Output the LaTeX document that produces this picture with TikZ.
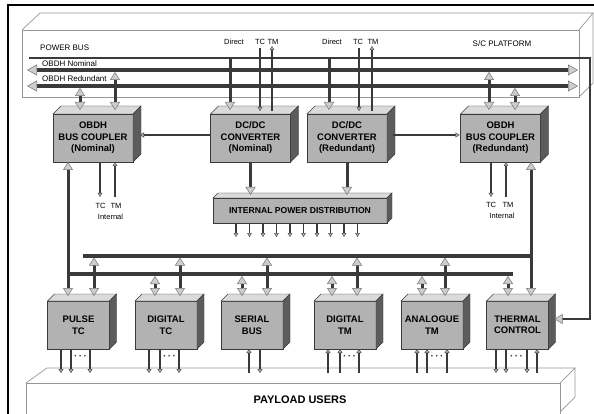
\documentclass[tikz,border=0pt]{standalone}
\usepackage{fontspec}
\setmainfont{Liberation Sans}
\usetikzlibrary{arrows.meta, calc}
\definecolor{boxfront}{RGB}{178,178,178}
\definecolor{boxtop}{RGB}{218,218,218}
\definecolor{boxside}{RGB}{92,92,92}
\definecolor{linedark}{RGB}{58,58,58}
\definecolor{tipfill}{RGB}{205,205,205}
\definecolor{tipedge}{RGB}{115,115,115}
\definecolor{slabedge}{RGB}{150,150,150}
\tikzset{
    upperbox/.style={rectangle, draw=linedark, line width=0.5pt, fill=boxfront, inner sep=0pt, outer sep=0pt, minimum width=80pt, minimum height=48pt, align=center, font=\fontsize{9.5}{11.5}\selectfont\bfseries},
    userbox/.style={rectangle, draw=linedark, line width=0.5pt, fill=boxfront, inner sep=0pt, outer sep=0pt, minimum width=62pt, minimum height=48pt, align=center, font=\fontsize{9.5}{11.5}\selectfont\bfseries},
    distbox/.style={rectangle, draw=linedark, line width=0.5pt, fill=boxfront, inner sep=0pt, outer sep=0pt, minimum width=174pt, minimum height=25pt, align=center, font=\fontsize{8.6}{10}\selectfont\bfseries},
    topface/.style={fill=boxtop, draw=linedark, line width=0.4pt},
    sideface/.style={fill=boxside, draw=linedark, line width=0.4pt},
    slab/.style={draw=slabedge, line width=0.7pt},
    frameline/.style={draw=black, line width=2pt},
    buslabel/.style={font=\fontsize{8}{10}\selectfont, inner sep=0pt},
    siglabel/.style={font=\fontsize{7.5}{9}\selectfont, inner sep=0pt},
    dotlbl/.style={font=\fontsize{10}{11}\selectfont\bfseries, inner sep=0pt, text=linedark},
    paylbl/.style={font=\fontsize{11}{13}\selectfont\bfseries, inner sep=0pt},
    busarr/.style={draw=linedark, line width=3.8pt, {Triangle[length=10pt,width=11pt,line width=0.5pt,color=tipedge,fill=tipfill]}-{Triangle[length=10pt,width=11pt,line width=0.5pt,color=tipedge,fill=tipfill]}},
    ibus/.style={draw=linedark, line width=3.2pt},
    dblarr/.style={draw=linedark, line width=3pt, {Triangle[length=8pt,width=10pt,line width=0.5pt,color=tipedge,fill=tipfill]}-{Triangle[length=8pt,width=10pt,line width=0.5pt,color=tipedge,fill=tipfill]}},
    feedarr/.style={draw=linedark, line width=3pt, -{Triangle[length=8pt,width=10pt,line width=0.5pt,color=tipedge,fill=tipfill]}},
    pwrfeed/.style={draw=linedark, line width=2.8pt, -{Triangle[length=8pt,width=10pt,line width=0.5pt,color=tipedge,fill=tipfill]}},
    sigarr/.style={draw=linedark, line width=1.5pt, -{Triangle[length=4pt,width=4.5pt,line width=0.4pt,color=linedark,fill=gray!60]}},
    linkarr/.style={draw=linedark, line width=2pt, -{Triangle[length=4pt,width=5pt,line width=0.4pt,color=linedark,fill=gray!60]}},
    userarr/.style={draw=linedark, line width=2.2pt, -{Triangle[length=4pt,width=5pt,line width=0.4pt,color=linedark,fill=gray!60]}}
}
\newcommand{\blockfaces}[2]{%
    \filldraw[topface] (#1.north west) -- ++(#2,-#2) -- ($(#1.north east)+(#2,-#2)$) -- (#1.north east) -- cycle;
    \filldraw[sideface] (#1.north east) -- ++(#2,-#2) -- ($(#1.south east)+(#2,-#2)$) -- (#1.south east) -- cycle;
}
\begin{document}
\begin{tikzpicture}[x=1pt, y=-1pt]
    \useasboundingbox (0,0) rectangle (594,414);

    \draw[frameline] (8,420) -- (8,5) -- (600,5);
    \draw[slab] (22,30) rectangle (579,97);
    \draw[slab] (22,30) -- (40,13) -- (593,13) -- (579,30);
    \draw[slab] (593,13) -- (593,83) -- (579,97);
    \draw[slab] (26,420) -- (26,383) -- (560,383) -- (560,420);
    \draw[slab] (26,383) -- (47,368) -- (575,368) -- (560,383);
    \draw[slab] (575,368) -- (575,397) -- (560,412);

    \node[buslabel, anchor=west] (lblpwr) at (40,48) {POWER BUS};
    \node[buslabel, anchor=west] (lblnom) at (42,63.5) {OBDH Nominal};
    \node[buslabel, anchor=west] (lblred) at (42,79) {OBDH Redundant};
    \node[buslabel] (lblsc) at (502,44) {S/C PLATFORM};
    \node[paylbl] (lblpay) at (300,400) {PAYLOAD USERS};

    \coordinate (pwrL) at (29,58);
    \coordinate (pwrR) at (590,58);
    \coordinate (pwrD) at (590,319);
    \coordinate (nomL) at (27,70);
    \coordinate (nomR) at (578,70);
    \coordinate (redL) at (27,86);
    \coordinate (redR) at (578,86);
    \coordinate (lbusL) at (68,274);
    \coordinate (lbusR) at (513,274);
    \coordinate (ubusL) at (83,256);
    \coordinate (ubusR) at (531,256);

    \draw[busarr] (nomL) -- (nomR);
    \draw[busarr] (redL) -- (redR);
    \draw[ibus] (lbusL) -- (lbusR);
    \draw[ibus] (ubusL) -- (ubusR);

    \node[upperbox] (cplN) at (93,138) {OBDH\\BUS COUPLER\\(Nominal)};
    \node[upperbox] (dcN) at (250.5,138) {DC/DC\\CONVERTER\\(Nominal)};
    \node[upperbox] (dcR) at (347,138) {DC/DC\\CONVERTER\\(Redundant)};
    \node[upperbox] (cplR) at (500.5,138) {OBDH\\BUS COUPLER\\(Redundant)};
    \node[distbox] (ipd) at (300,210.5) {INTERNAL POWER DISTRIBUTION};
    \node[userbox] (ptc) at (78.5,325) {PULSE\\TC};
    \node[userbox] (dtc) at (166,325) {DIGITAL\\TC};
    \node[userbox] (sbus) at (252,325) {SERIAL\\BUS};
    \node[userbox] (dtm) at (345,325) {DIGITAL\\TM};
    \node[userbox] (atm) at (432,325) {ANALOGUE\\TM};
    \node[userbox] (thc) at (517.5,325) {THERMAL\\CONTROL};
    \foreach \b/\d in {cplN/8, dcN/8, dcR/8, cplR/8, ipd/5, ptc/7, dtc/7, sbus/7, dtm/7, atm/7, thc/7}
        \blockfaces{\b}{\d};

    \draw[pwrfeed] (pwrL) -- (pwrR) -- (pwrD) -- ($(thc.east)+(6,-6)$);

    \node[siglabel] (dirN) at (234,42) {Direct};
    \node[siglabel] (tcN) at (260,42) {TC};
    \node[siglabel] (tmN) at (273,42) {TM};
    \node[siglabel] (dirR) at (332,42) {Direct};
    \node[siglabel] (tcR) at (358,42) {TC};
    \node[siglabel] (tmR) at (373,42) {TM};
    \draw[feedarr] ($(dcN.north)+(-20.5,-55)$) -- ($(dcN.north)+(-20.5,-4)$);
    \draw[feedarr] ($(dcR.north)+(-18,-55)$) -- ($(dcR.north)+(-18,-4)$);
    \draw[sigarr] ($(dcN.north)+(9.5,-66)$) -- ($(dcN.north)+(9.5,-3)$);
    \draw[sigarr] ($(dcN.north)+(21.5,-3)$) -- ($(dcN.north)+(21.5,-68)$);
    \draw[sigarr] ($(dcR.north)+(12,-66)$) -- ($(dcR.north)+(12,-3)$);
    \draw[sigarr] ($(dcR.north)+(25,-3)$) -- ($(dcR.north)+(25,-68)$);

    \draw[dblarr] ($(cplN.north)+(22,-42)$) -- ($(cplN.north)+(22,-4)$);
    \draw[dblarr] ($(cplN.north)+(-13,-26)$) -- ($(cplN.north)+(-13,-4)$);
    \draw[dblarr] ($(cplR.north)+(-11.5,-42)$) -- ($(cplR.north)+(-11.5,-4)$);
    \draw[dblarr] ($(cplR.north)+(14.5,-26)$) -- ($(cplR.north)+(14.5,-4)$);

    \draw[linkarr] ($(dcN.west)+(0,-3)$) -- ($(cplN.east)+(7,-3)$);
    \draw[linkarr] ($(dcR.east)+(6,-3)$) -- ($(cplR.west)+(-1,-3)$);

    \draw[feedarr] (dcN.south) -- ($(ipd.north -| dcN.south)+(0,-3)$);
    \draw[feedarr] (dcR.south) -- ($(ipd.north -| dcR.south)+(0,-3)$);
    \foreach \i in {0,...,9}
        \draw[sigarr] ($(ipd.south west)+(23+13.5*\i,1)$) -- ++(0,13);

    \node[siglabel] (itcN) at (100.5,206) {TC};
    \node[siglabel] (itmN) at (116,206) {TM};
    \node[siglabel] (intN) at (110.5,217) {Internal};
    \node[siglabel] (itcR) at (491,205) {TC};
    \node[siglabel] (itmR) at (508,205) {TM};
    \node[siglabel] (intR) at (502,216) {Internal};
    \draw[sigarr] ($(cplN.south)+(7,0)$) -- ++(0,35);
    \draw[sigarr] ($(cplN.south)+(22,35)$) -- ++(0,-35);
    \draw[sigarr] ($(cplR.south)+(-9.5,0)$) -- ++(0,35);
    \draw[sigarr] ($(cplR.south)+(5.5,35)$) -- ++(0,-35);

    \draw[dblarr] ($(cplN.south)+(-25,0)$) -- ($(ptc.north)+(-10.5,-5)$);
    \draw[dblarr] ($(cplR.south)+(30.5,0)$) -- ($(thc.north)+(13.5,-5)$);
    \foreach \b/\s in {dtc/-11, sbus/-10, dtm/-13, atm/-10, thc/-9.5}
        \draw[dblarr] ($(\b.north)+(\s,-25)$) -- ($(\b.north)+(\s,-5)$);
    \foreach \b/\l in {ptc/15.5, dtc/14, sbus/15, dtm/12, atm/13}
        \draw[dblarr] ($(\b.north)+(\l,-43.5)$) -- ($(\b.north)+(\l,-5)$);

    \foreach \b/\o in {ptc/-17.5, ptc/-7.5, ptc/11.5, dtc/-17, dtc/-6, dtc/13, sbus/8, thc/-21.5, thc/-11.5, thc/9.5}
        \draw[userarr] ($(\b.south)+(\o,0)$) -- ++(0,24);
    \foreach \b/\o in {sbus/-3, dtm/-17, dtm/-5, dtm/14, atm/-15, atm/-5, atm/15, thc/19.5}
        \draw[userarr] ($(\b.south)+(\o,24)$) -- ++(0,-24);
    \foreach \b/\o in {ptc/2, dtc/3.5, dtm/4.5, atm/5, thc/-1}
        \node[dotlbl] (\b-dots) at ($(\b.south)+(\o,8)$) {\textperiodcentered\hspace{1.5pt}\textperiodcentered\hspace{1.5pt}\textperiodcentered};
\end{tikzpicture}
\end{document}
